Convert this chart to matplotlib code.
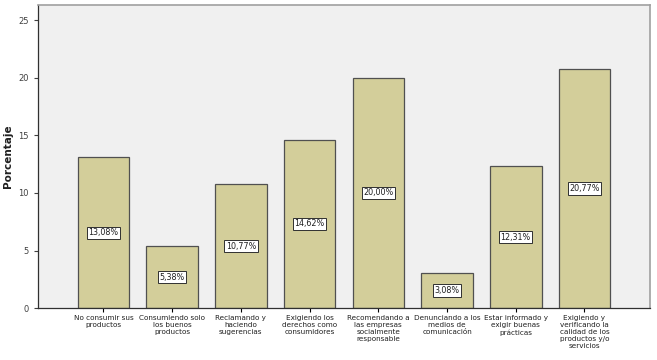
import numpy as np
import matplotlib.pyplot as plt

categories = [
    "No consumir sus\nproductos",
    "Consumiendo solo\nlos buenos\nproductos",
    "Reclamando y\nhaciendo\nsugerencias",
    "Exigiendo los\nderechos como\nconsumidores",
    "Recomendando a\nlas empresas\nsocialmente\nresponsable",
    "Denunciando a los\nmedios de\ncomunicación",
    "Estar informado y\nexigir buenas\nprácticas",
    "Exigiendo y\nverificando la\ncalidad de los\nproductos y/o\nservicios",
]
porcentaje = [13.08, 5.38, 10.77, 14.62, 20.00, 3.08, 12.31, 20.77]
yticks = [0, 5, 10, 15, 20, 25]

fig = plt.figure(figsize=(6.57, 3.6), dpi=100)
ax = fig.add_axes([0.058, 0.144, 0.931, 0.842])
ax.set_facecolor('#f0f0f0')

x = np.arange(len(categories))
ax.bar(x, porcentaje, width=0.75, color='#d3ce9a', edgecolor='#505050', linewidth=0.9)

for xi, v in zip(x, porcentaje):
    ax.text(xi, v / 2, f"{v:.2f}%".replace('.', ','), ha='center', va='center',
            fontsize=5.8, color='#202020',
            bbox=dict(boxstyle='square,pad=0.2', facecolor='white', edgecolor='#303030', linewidth=0.7))

ax.set_xlim(-0.95, 7.95)
ax.set_ylim(0, 26.3)
ax.set_yticks(yticks)
ax.set_xticks(x)
ax.set_xticklabels(categories, fontsize=5.2, color='#202020', linespacing=1.2)
ax.tick_params(axis='y', labelsize=6, colors='#404040', length=3, width=0.8)
ax.tick_params(axis='x', length=3, width=0.8, pad=2)
ax.set_ylabel('Porcentaje', fontsize=7.5, fontweight='bold', color='#202020', labelpad=4)

for side in ['left', 'bottom']:
    ax.spines[side].set_color('#303030')
    ax.spines[side].set_linewidth(0.9)
for side in ['top', 'right']:
    ax.spines[side].set_color('#a0a0a0')
    ax.spines[side].set_linewidth(1.2)

fig.savefig('out.png', dpi=100)
